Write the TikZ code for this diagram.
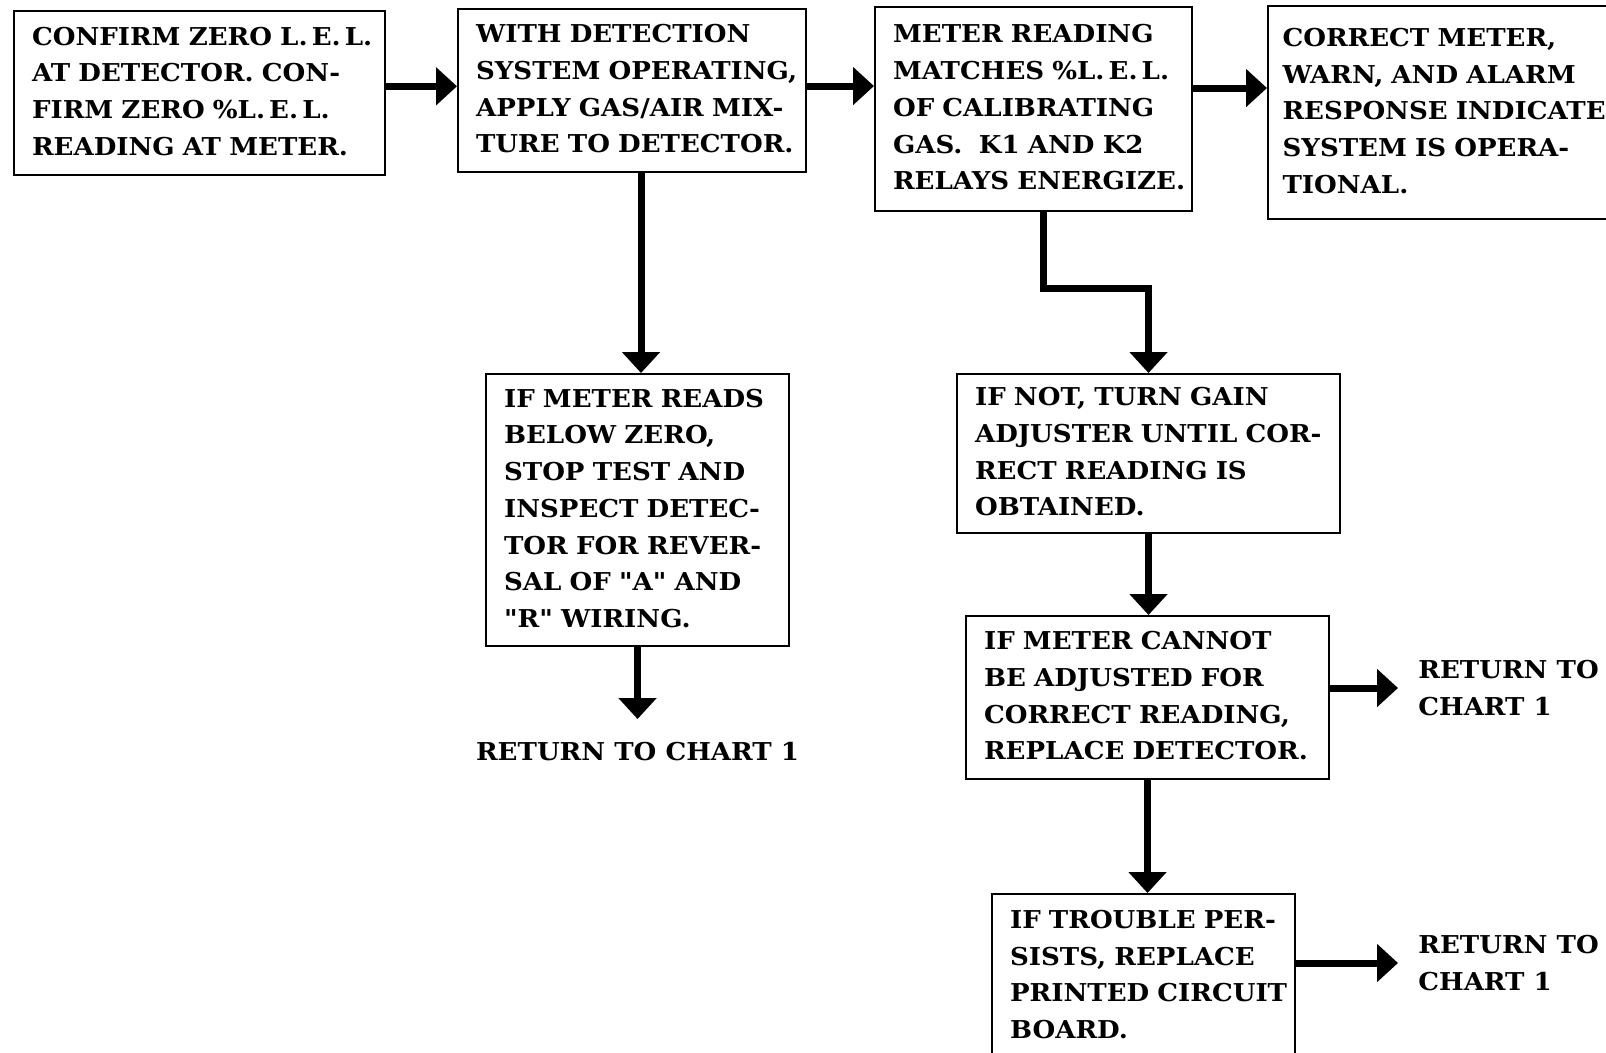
\documentclass[tikz,border=0pt]{standalone}
\usepackage{fontspec}
\setmainfont[Ligatures=TeXOff, FakeStretch=1.06]{DejaVu Serif}
\usetikzlibrary{positioning, arrows.meta}

\newcommand{\steplines}[1]{\begin{tabular}{@{}l@{}}#1\end{tabular}}

\begin{document}
\begin{tikzpicture}[
        x=0.02cm, y=-0.02cm,
        % Styles
        step_box/.style={draw, line width=1.2pt, anchor=north west, align=left, inner xsep=0.36cm, inner ysep=0pt, font=\fontsize{14}{20.9}\selectfont\bfseries},
        ret_text/.style={align=left, inner sep=0pt, font=\fontsize{14}{20.9}\selectfont\bfseries},
        arrow/.style={-{Triangle[length=0.42cm, width=0.74cm]}, line width=0.14cm}
    ]
    \useasboundingbox (0,0) rectangle (1606,1052);
    \clip (0,0) rectangle (1606,1052);

    % Top row
    \node[step_box, text width=6.70cm, minimum height=3.29cm] (zero) at (13,9.5) {\steplines{CONFIRM ZERO L.\,E.\,L.\\AT DETECTOR. CON-\\FIRM ZERO \%L.\,E.\,L.\\READING AT METER.}};
    \node[step_box, text width=6.24cm, minimum height=3.26cm] (apply) at (457,8) {\steplines{WITH DETECTION\\SYSTEM OPERATING,\\APPLY GAS/AIR MIX-\\TURE TO DETECTOR.}};
    \node[step_box, text width=5.62cm, minimum height=4.08cm] (match) at (874,6) {\steplines{METER READING\\MATCHES \%L.\,E.\,L.\\OF CALIBRATING\\GAS.\ \ K1 AND K2\\RELAYS ENERGIZE.}};
    \node[step_box, inner xsep=0.29cm, text width=7.6cm, minimum height=4.26cm] (ok) at (1267,5) {\steplines{CORRECT METER,\\WARN, AND ALARM\\RESPONSE INDICATE\\SYSTEM IS OPERA-\\TIONAL.}};
    \draw[arrow] ([yshift=0.13cm]zero.east) -- ([yshift=0.13cm]zero.east -| apply.west);
    \draw[arrow] ([yshift=0.09cm]apply.east) -- ([yshift=0.09cm]apply.east -| match.west);
    \draw[arrow] ([yshift=0.42cm]match.east) -- ([yshift=0.42cm]match.east -| ok.west);

    % Left branch
    \node[step_box, text width=5.34cm, minimum height=5.44cm] (below) at (485,373) {\steplines{IF METER READS\\BELOW ZERO,\\STOP TEST AND\\INSPECT DETEC-\\TOR FOR REVER-\\SAL OF "A" AND\\"R" WIRING.}};
    \node[ret_text, below=1.9cm of below] (ret1) {RETURN TO CHART 1};
    \draw[arrow] ([xshift=0.07cm]below.north |- apply.south) -- ([xshift=0.07cm]below.north);
    \draw[arrow] (below.south) -- ([yshift=0.46cm]ret1.north);

    % Right branch
    \node[step_box, text width=6.94cm, minimum height=3.18cm] (gain) at (956,373) {\steplines{IF NOT, TURN GAIN\\ADJUSTER UNTIL COR-\\RECT READING IS\\OBTAINED.}};
    \node[step_box, text width=6.54cm, minimum height=3.26cm] (detector) at (965,615) {\steplines{IF METER CANNOT\\BE ADJUSTED FOR\\CORRECT READING,\\REPLACE DETECTOR.}};
    \node[step_box, text width=5.34cm, minimum height=3.28cm] (board) at (991,893) {\steplines{IF TROUBLE PER-\\SISTS, REPLACE\\PRINTED CIRCUIT\\BOARD.}};
    \node[ret_text, anchor=west] (ret2) at (1418,688) {RETURN TO\\CHART 1};
    \node[ret_text, anchor=west] (ret3) at (1418,963) {RETURN TO\\CHART 1};
    \draw[arrow] ([xshift=0.2cm]match.south) -- ++(0,76) -| (gain.north);
    \draw[arrow] (gain.south) -- (gain.south |- detector.north);
    \draw[arrow] (detector.south) -- (detector.south |- board.north);
    \draw[arrow] (ret2.west -| detector.east) -- ([xshift=-0.4cm]ret2.west);
    \draw[arrow] (ret3.west -| board.east) -- ([xshift=-0.4cm]ret3.west);

\end{tikzpicture}
\end{document}
